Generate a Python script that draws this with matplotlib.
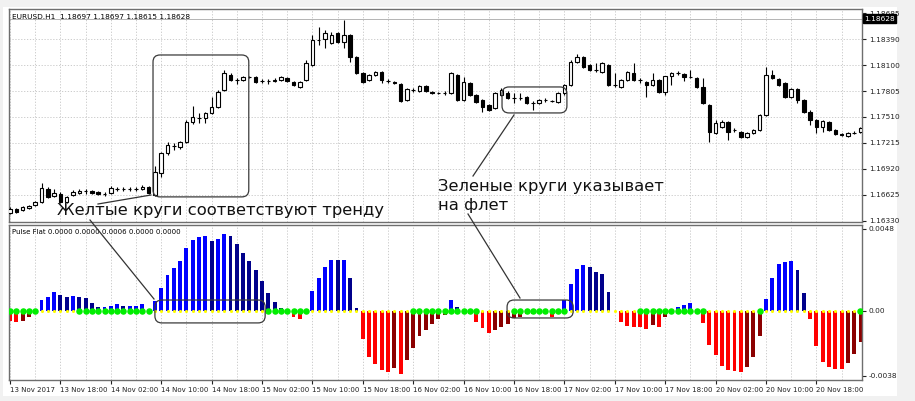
import matplotlib.pyplot as plt
from matplotlib.patches import FancyBboxPatch, Rectangle
from matplotlib.lines import Line2D
from matplotlib.transforms import IdentityTransform, blended_transform_factory
import numpy as np

W, H = 915, 401

# EURUSD H1 candles, 13 Nov 10:00 .. 21 Nov 01:00 (weekend skipped)
opens = [1.16421, 1.16466, 1.16455, 1.16477, 1.16511, 1.16545, 1.16693, 1.16614, 1.16637, 1.16545,
         1.16625, 1.16648, 1.16671, 1.16671, 1.16659, 1.16637, 1.16648, 1.16693, 1.16693, 1.16696,
         1.16693, 1.16693, 1.16716, 1.16625, 1.16875, 1.17102, 1.17181, 1.17170, 1.17226, 1.17453,
         1.17499, 1.17499, 1.17556, 1.17624, 1.17817, 1.17987, 1.17930, 1.17930, 1.17964, 1.17964,
         1.17919, 1.17919, 1.17919, 1.17930, 1.17953, 1.17907, 1.17851, 1.17930, 1.18101, 1.18384,
         1.18396, 1.18350, 1.18464, 1.18361, 1.18441, 1.18191, 1.18010, 1.17930, 1.17987, 1.18021,
         1.17919, 1.17907, 1.17885, 1.17703, 1.17817, 1.17806, 1.17862, 1.17794, 1.17783, 1.17783,
         1.17783, 1.17987, 1.17703, 1.17896, 1.17760, 1.17703, 1.17647, 1.17613, 1.17760, 1.17783,
         1.17726, 1.17726, 1.17738, 1.17669, 1.17669, 1.17703, 1.17692, 1.17680, 1.17783, 1.17873,
         1.18134, 1.18191, 1.18101, 1.18044, 1.18021, 1.18101, 1.17873, 1.17851, 1.17930, 1.18010,
         1.17930, 1.17907, 1.17873, 1.17930, 1.17794, 1.17976, 1.18010, 1.17998, 1.17964, 1.17953,
         1.17851, 1.17647, 1.17329, 1.17397, 1.17453, 1.17363, 1.17340, 1.17283, 1.17329, 1.17363,
         1.17533, 1.17987, 1.17942, 1.17896, 1.17738, 1.17828, 1.17703, 1.17567, 1.17476, 1.17397,
         1.17453, 1.17363, 1.17317, 1.17295, 1.17329, 1.17340]
highs = [1.16489, 1.16477, 1.16500, 1.16511, 1.16557, 1.16761, 1.16716, 1.16693, 1.16659, 1.16614,
         1.16682, 1.16693, 1.16693, 1.16682, 1.16671, 1.16659, 1.16727, 1.16716, 1.16716, 1.16716,
         1.16716, 1.16738, 1.16727, 1.16954, 1.17113, 1.17226, 1.17215, 1.17238, 1.17476, 1.17635,
         1.17556, 1.17567, 1.17738, 1.17817, 1.18044, 1.18010, 1.17953, 1.17976, 1.17976, 1.17976,
         1.17942, 1.17942, 1.17953, 1.17976, 1.17964, 1.17919, 1.17919, 1.18157, 1.18441, 1.18532,
         1.18498, 1.18475, 1.18475, 1.18611, 1.18452, 1.18202, 1.18021, 1.17998, 1.18033, 1.18033,
         1.17942, 1.17919, 1.17896, 1.17839, 1.17839, 1.17873, 1.17873, 1.17806, 1.17794, 1.17806,
         1.18021, 1.17998, 1.17964, 1.17907, 1.17771, 1.17715, 1.17658, 1.17794, 1.17839, 1.17806,
         1.17783, 1.17783, 1.17749, 1.17692, 1.17715, 1.17726, 1.17703, 1.17794, 1.17885, 1.18157,
         1.18225, 1.18202, 1.18112, 1.18123, 1.18134, 1.18112, 1.18010, 1.17942, 1.18033, 1.18123,
         1.17953, 1.17919, 1.18010, 1.17942, 1.17976, 1.18021, 1.18033, 1.18010, 1.18044, 1.17964,
         1.17953, 1.17658, 1.17476, 1.17476, 1.17465, 1.17385, 1.17351, 1.17340, 1.17374, 1.17545,
         1.18078, 1.18044, 1.17953, 1.17907, 1.17839, 1.17839, 1.17715, 1.17590, 1.17488, 1.17476,
         1.17465, 1.17374, 1.17329, 1.17340, 1.17351, 1.17397]
lows = [1.16410, 1.16421, 1.16444, 1.16466, 1.16500, 1.16534, 1.16591, 1.16603, 1.16534, 1.16534,
        1.16614, 1.16637, 1.16637, 1.16637, 1.16625, 1.16614, 1.16637, 1.16671, 1.16671, 1.16671,
        1.16671, 1.16682, 1.16637, 1.16614, 1.16830, 1.17079, 1.17136, 1.17147, 1.17215, 1.17431,
        1.17442, 1.17442, 1.17545, 1.17613, 1.17806, 1.17919, 1.17885, 1.17919, 1.17953, 1.17896,
        1.17896, 1.17885, 1.17907, 1.17919, 1.17907, 1.17862, 1.17839, 1.17919, 1.18089, 1.18327,
        1.18293, 1.18339, 1.18350, 1.18293, 1.18134, 1.17998, 1.17896, 1.17919, 1.17976, 1.17896,
        1.17896, 1.17885, 1.17680, 1.17692, 1.17794, 1.17794, 1.17794, 1.17771, 1.17771, 1.17760,
        1.17771, 1.17692, 1.17692, 1.17749, 1.17669, 1.17567, 1.17579, 1.17601, 1.17749, 1.17715,
        1.17669, 1.17703, 1.17658, 1.17590, 1.17658, 1.17680, 1.17680, 1.17669, 1.17760, 1.17862,
        1.18123, 1.18066, 1.18033, 1.18021, 1.18010, 1.17862, 1.17851, 1.17839, 1.17919, 1.17919,
        1.17896, 1.17738, 1.17862, 1.17783, 1.17760, 1.17873, 1.17987, 1.17919, 1.17953, 1.17839,
        1.17658, 1.17226, 1.17317, 1.17385, 1.17249, 1.17340, 1.17272, 1.17272, 1.17317, 1.17351,
        1.17522, 1.17942, 1.17862, 1.17726, 1.17726, 1.17669, 1.17556, 1.17420, 1.17329, 1.17340,
        1.17351, 1.17306, 1.17295, 1.17283, 1.17317, 1.17329]
closes = [1.16466, 1.16432, 1.16489, 1.16500, 1.16545, 1.16704, 1.16603, 1.16648, 1.16545, 1.16603,
          1.16659, 1.16671, 1.16670, 1.16648, 1.16637, 1.16637, 1.16704, 1.16693, 1.16696, 1.16693,
          1.16696, 1.16716, 1.16648, 1.16886, 1.17102, 1.17193, 1.17184, 1.17226, 1.17453, 1.17511,
          1.17502, 1.17556, 1.17624, 1.17794, 1.18010, 1.17930, 1.17932, 1.17964, 1.17962, 1.17907,
          1.17921, 1.17917, 1.17930, 1.17964, 1.17919, 1.17873, 1.17907, 1.18123, 1.18384, 1.18387,
          1.18464, 1.18441, 1.18361, 1.18441, 1.18191, 1.18010, 1.17907, 1.17987, 1.18021, 1.17930,
          1.17921, 1.17896, 1.17692, 1.17828, 1.17819, 1.17862, 1.17806, 1.17783, 1.17781, 1.17785,
          1.18010, 1.17703, 1.17907, 1.17760, 1.17680, 1.17624, 1.17590, 1.17783, 1.17817, 1.17726,
          1.17728, 1.17724, 1.17669, 1.17671, 1.17703, 1.17705, 1.17690, 1.17783, 1.17873, 1.18134,
          1.18191, 1.18078, 1.18044, 1.18042, 1.18123, 1.17873, 1.17871, 1.17930, 1.18021, 1.17930,
          1.17928, 1.17873, 1.17930, 1.17794, 1.17976, 1.18010, 1.18008, 1.17964, 1.17962, 1.17851,
          1.17669, 1.17340, 1.17442, 1.17453, 1.17340, 1.17361, 1.17283, 1.17329, 1.17363, 1.17533,
          1.17987, 1.17953, 1.17873, 1.17738, 1.17828, 1.17703, 1.17567, 1.17476, 1.17397, 1.17465,
          1.17363, 1.17317, 1.17306, 1.17329, 1.17327, 1.17385]

# Pulse Flat histogram + flat flag (1 = green dot, 0 = yellow dot)
pulse = [-0.00058, -0.00064, -0.00058, -0.00033, 0.0, 0.00064, 0.0008, 0.00113, 0.00094, 0.00084,
         0.00088, 0.00084, 0.00074, 0.00049, 0.00023, 0.00023, 0.0003, 0.0004, 0.0003, 0.0003,
         0.0003, 0.0004, 0.0, 0.00058, 0.00135, 0.0021, 0.0025, 0.0029, 0.0037, 0.00415,
         0.00433, 0.0044, 0.0041, 0.0042, 0.0045, 0.0044, 0.0039, 0.0034, 0.0029, 0.0024,
         0.00175, 0.00105, 0.00053, 0.0002, 0.0, -0.00035, -0.00047, 0.0, 0.00117, 0.0019,
         0.0026, 0.0030, 0.00296, 0.00296, 0.0019, 0.00016, -0.00162, -0.0027, -0.0031, -0.00345,
         -0.00357, -0.00335, -0.0037, -0.00287, -0.00218, -0.00146, -0.0011, -0.00076, -0.00047, -0.00023,
         0.00064, 0.00023, 0.0, -0.0002, -0.00064, -0.00098, -0.0013, -0.0011, -0.00095, -0.00078,
         -0.0004, -0.00037, -0.0002, -0.00015, -0.0001, -0.0002, -0.00033, 0.0, 0.00064, 0.0016,
         0.00244, 0.0027, 0.0026, 0.0023, 0.00216, 0.0011, 0.0, -0.00062, -0.00088, -0.00095,
         -0.00095, -0.00107, -0.00082, -0.00095, -0.00035, 0.0, 0.00023, 0.00035, 0.00049, 0.0,
         -0.00068, -0.002, -0.0026, -0.0032, -0.00347, -0.0035, -0.00355, -0.0033, -0.0027, -0.00146,
         0.00068, 0.00195, 0.00273, 0.00288, 0.0029, 0.0024, 0.00107, -0.00049, -0.00205, -0.003,
         -0.0033, -0.0034, -0.0034, -0.00306, -0.0025, -0.0018]
flat = [1, 1, 1, 1, 1, 0, 0, 0, 0, 0, 0, 1, 1, 1, 1, 1, 1, 1, 1, 1, 1, 1, 1, 0,
        0, 0, 0, 0, 0, 0, 0, 0, 0, 0, 0, 0, 0, 0, 0, 0, 0, 1, 1, 1, 1, 1, 1, 1,
        0, 0, 0, 0, 0, 0, 0, 0, 0, 0, 0, 0, 0, 0, 0, 0, 1, 1, 1, 1, 1, 1, 1, 1,
        1, 1, 1, 0, 0, 0, 0, 0, 1, 1, 1, 1, 1, 1, 1, 1, 1, 0, 0, 0, 0, 0, 0, 0,
        0, 0, 0, 0, 1, 1, 1, 1, 1, 1, 1, 1, 1, 1, 1, 0, 0, 0, 0, 0, 0, 0, 0, 1,
        0, 0, 0, 0, 0, 0, 0, 0, 0, 0, 0, 0, 0, 0, 0, 1]

price_ticks = [1.18685, 1.18390, 1.18100, 1.17805, 1.17510, 1.17215, 1.16920, 1.16625, 1.16330]
pulse_ticks = [0.0048, 0.0, -0.0038]
pulse_tick_labels = ["0.0048", "0.00", "-0.0038"]
time_labels = ["13 Nov 2017", "13 Nov 18:00", "14 Nov 02:00", "14 Nov 10:00", "14 Nov 18:00",
               "15 Nov 02:00", "15 Nov 10:00", "15 Nov 18:00", "16 Nov 02:00", "16 Nov 10:00",
               "16 Nov 18:00", "17 Nov 02:00", "17 Nov 10:00", "17 Nov 18:00", "20 Nov 02:00",
               "20 Nov 10:00", "20 Nov 18:00"]
last_price = 1.18628
header = "EURUSD.H1  1.18697 1.18697 1.18615 1.18628"
ind_header = "Pulse Flat 0.0000 0.0000 0.0006 0.0000 0.0000"
note_trend = "Желтые круги соответствуют тренду"
note_flat = "Зеленые круги указывает\nна флет"

n = len(closes)
x = np.arange(n)
o = np.array(opens)
c = np.array(closes)

fig = plt.figure(figsize=(W / 100, H / 100), dpi=100, facecolor="#f1f1f1")
fig.add_artist(Rectangle((3 / W, 1 - 396 / H), 894 / W, 389 / H, transform=fig.transFigure,
                         facecolor="white", edgecolor="none", zorder=-5))

ax = fig.add_axes([9 / W, 1 - 222 / H, 853 / W, 213 / H])
ax2 = fig.add_axes([9 / W, 1 - 380 / H, 853 / W, 155 / H])

grid_kw = dict(color="#c4c4c4", lw=0.6, ls=(0, (1.5, 2.0)), zorder=0)
for a in (ax, ax2):
    for i in range(0, n, 4):
        a.axvline(i, **grid_kw)
    for s in a.spines.values():
        s.set_color("#6e6e6e")
        s.set_linewidth(1.0)
    a.set_xlim(-0.16, 135.24)
    a.yaxis.tick_right()
    a.tick_params(axis="y", labelsize=5.3, length=3, pad=2, colors="#222222")

# price pane
for p in price_ticks[1:-1]:
    ax.axhline(p, **grid_kw)
ax.axhline(last_price, color="#a8a8a8", lw=0.6, zorder=1)
ax.vlines(x, lows, highs, color="black", lw=0.8, zorder=2)
ax.bar(x, np.abs(c - o), bottom=np.minimum(o, c), width=0.55,
       color=np.where(c >= o, "white", "black"), edgecolor="black", linewidth=0.8, zorder=3)
ax.set_ylim(1.16318, 1.18736)
ax.set_yticks(price_ticks)
ax.set_yticklabels([f"{p:.5f}" for p in price_ticks])
ax.set_xticks([])
tr = blended_transform_factory(ax.transAxes, ax.transData)
ax.text(1.003, last_price, f"{last_price:.5f}", transform=tr, fontsize=5.3, color="white",
        va="center", ha="left", zorder=5,
        bbox=dict(boxstyle="square,pad=0.15", facecolor="black", edgecolor="black"))
ax.text(0.004, 0.975, header, transform=ax.transAxes, fontsize=5.3, va="top", ha="left")

# indicator pane
cols = []
prev = 0.0
for v in pulse:
    if v >= 0:
        cols.append("#0000ff" if v >= prev else "#00008b")
    else:
        cols.append("#ff0000" if v <= prev else "#8b0000")
    prev = v
ax2.bar(x, pulse, width=0.62, color=cols, zorder=2)
fl = np.array(flat)
ax2.scatter(x[fl == 0], np.zeros((fl == 0).sum()), s=5, color="#ffff00", linewidths=0, zorder=3)
ax2.scatter(x[fl == 1], np.zeros((fl == 1).sum()), s=22, color="#00ee00", linewidths=0, zorder=4)
ax2.set_ylim(-0.00404, 0.00503)
ax2.set_yticks(pulse_ticks)
ax2.set_yticklabels(pulse_tick_labels)
ax2.set_xticks(np.arange(len(time_labels)) * 8)
ax2.set_xticklabels(time_labels)
ax2.tick_params(axis="x", labelsize=5.0, length=3, pad=2, colors="#222222")
plt.setp(ax2.get_xticklabels(), ha="left")
ax2.text(0.004, 0.975, ind_header, transform=ax2.transAxes, fontsize=5.0, va="top", ha="left")

# annotation boxes (data coords -> pixels so the corners stay round)
boxes = [(ax, 22.7, 37.9, 1.16603, 1.18214), (ax2, 23.0, 40.5, -0.0007, 0.00064),
         (ax, 78.1, 88.4, 1.17556, 1.17851), (ax2, 78.9, 89.4, -0.00041, 0.00064)]
for a, x0, x1, y0, y1 in boxes:
    (px0, py0), (px1, py1) = a.transData.transform([(x0, y0), (x1, y1)])
    fig.add_artist(FancyBboxPatch((px0, py0), px1 - px0, py1 - py0,
                                  boxstyle="round,pad=0,rounding_size=7",
                                  transform=IdentityTransform(), facecolor="none",
                                  edgecolor="#3a3a3a", lw=0.9, zorder=6))

links = [((98, 204), (151, 195)), ((90, 220), (154, 299)),
         ((473, 176), (514, 115)), ((468, 214), (520, 298))]
for (xa, ya), (xb, yb) in links:
    fig.add_artist(Line2D([xa, xb], [H - ya, H - yb], transform=IdentityTransform(),
                          color="#333333", lw=0.9, zorder=6))

fig.text(57 / W, 1 - 211 / H, note_trend, fontsize=11.8, va="center", ha="left", color="#111111", zorder=7)
fig.text(438 / W, 1 - 196 / H, note_flat, fontsize=11.8, va="center", ha="left", color="#111111",
         linespacing=1.4, zorder=7)

fig.savefig("out.png", dpi=100, facecolor=fig.get_facecolor())
